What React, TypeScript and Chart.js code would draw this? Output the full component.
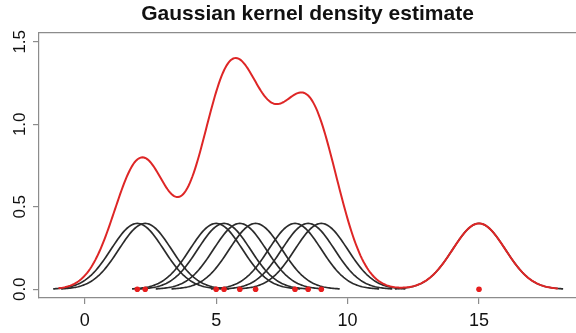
import React, { useEffect, useRef } from "react";
import { Chart, registerables } from "chart.js";

Chart.register(...registerables);

const samplePoints: number[] = [2.0, 2.3, 5.0, 5.3, 5.9, 6.5, 8.0, 8.5, 9.0, 15.0];
// Gaussian kernel bandwidth (each kernel peaks at ~0.4)
const bandwidth = 1;
// Extent of each individual kernel curve and of the summed estimate
const kernelHalfWidth = 3.2;
const densityRange: [number, number] = [-1, 18];
const xTicks: number[] = [0, 5, 10, 15];
const yTickLabels: string[] = ["0.0", "0.5", "1.0", "1.5"];
const yTickValues: number[] = [0, 0.5, 1.0, 1.5];
const titleText = "Gaussian kernel density estimate";

const STEP = 0.05;

function gauss(x: number, mu: number, h: number) {
  const z = (x - mu) / h;
  return Math.exp(-0.5 * z * z) / (h * Math.sqrt(2 * Math.PI));
}

function grid(a: number, b: number) {
  const out: number[] = [];
  const n = Math.round((b - a) / STEP);
  for (let i = 0; i <= n; i++) out.push(a + (i * (b - a)) / n);
  return out;
}

const FONT = "'Liberation Sans', Arial, Helvetica, sans-serif";

export default function App() {
  const ref = useRef<HTMLCanvasElement | null>(null);

  useEffect(() => {
    if (!ref.current) return;

    const kernelSets = samplePoints.map((mu) => ({
      type: "line" as const,
      data: grid(mu - kernelHalfWidth, mu + kernelHalfWidth).map((x) => ({ x, y: gauss(x, mu, bandwidth) })),
      borderColor: "#2b2b2b",
      borderWidth: 1.7,
      pointRadius: 0,
      pointHoverRadius: 0,
      tension: 0,
      order: 3,
    }));

    const densitySet = {
      type: "line" as const,
      data: grid(densityRange[0], densityRange[1]).map((x) => ({
        x,
        y: samplePoints.reduce((s, mu) => s + gauss(x, mu, bandwidth), 0),
      })),
      borderColor: "rgb(222,38,38)",
      borderWidth: 2,
      pointRadius: 0,
      pointHoverRadius: 0,
      tension: 0,
      order: 2,
    };

    const pointSet = {
      type: "scatter" as const,
      data: samplePoints.map((x) => ({ x, y: 0 })),
      backgroundColor: "rgb(230,30,30)",
      borderColor: "rgb(230,30,30)",
      borderWidth: 0,
      pointRadius: 2.8,
      pointHoverRadius: 2.8,
      order: 1,
    };

    const framePlugin = {
      id: "frame",
      afterDraw(chart: any) {
        const ctx = chart.ctx;
        const { left, right, top } = chart.chartArea;
        ctx.save();
        ctx.strokeStyle = "#8c8c8c";
        ctx.lineWidth = 1.2;
        ctx.beginPath();
        ctx.moveTo(left, top + 0.5);
        ctx.lineTo(right, top + 0.5);
        ctx.stroke();
        // rotated y tick labels
        const ys = chart.scales.y;
        ctx.fillStyle = "#111";
        ctx.font = `17px ${FONT}`;
        ctx.textAlign = "center";
        ctx.textBaseline = "alphabetic";
        yTickValues.forEach((v, i) => {
          const py = ys.getPixelForValue(v);
          ctx.save();
          ctx.translate(24.5, py);
          ctx.rotate(-Math.PI / 2);
          ctx.fillText(yTickLabels[i], 0, 0);
          ctx.restore();
        });
        ctx.restore();
      },
    };

    const chart = new Chart(ref.current, {
      type: "line",
      data: { datasets: [...kernelSets, densitySet, pointSet] as any },
      options: {
        animation: false,
        responsive: false,
        parsing: false as any,
        layout: { autoPadding: false, padding: { left: 0, right: 0, top: 0, bottom: 0 } },
        plugins: {
          legend: { display: false },
          tooltip: { enabled: false },
          title: {
            display: true,
            text: titleText,
            fullSize: false,
            color: "#111",
            font: { family: FONT, size: 21, weight: "bold" },
            padding: { top: 2, bottom: 5 },
          },
        },
        scales: {
          x: {
            type: "linear",
            min: -1.74,
            max: 18.69,
            afterFit: (s: any) => {
              s.height = 35;
              s.paddingLeft = 0;
              s.paddingRight = 0;
            },
            afterBuildTicks: (s: any) => {
              s.ticks = xTicks.map((v) => ({ value: v }));
            },
            ticks: {
              color: "#111",
              font: { family: FONT, size: 18 },
              padding: 6,
              maxRotation: 0,
              autoSkip: false,
            },
            grid: { drawOnChartArea: false, drawTicks: true, tickLength: 6, color: "#8c8c8c", lineWidth: 1.2 },
            border: { display: true, color: "#8c8c8c", width: 1.2 },
          },
          y: {
            type: "linear",
            min: -0.053,
            max: 1.558,
            afterFit: (s: any) => {
              s.width = 39;
              s.paddingTop = 0;
              s.paddingBottom = 0;
            },
            afterBuildTicks: (s: any) => {
              s.ticks = yTickValues.map((v) => ({ value: v }));
            },
            ticks: { display: false },
            grid: { drawOnChartArea: false, drawTicks: true, tickLength: 6, color: "#8c8c8c", lineWidth: 1.2 },
            border: { display: true, color: "#8c8c8c", width: 1.2 },
          },
        },
      },
      plugins: [framePlugin],
    });

    return () => chart.destroy();
  }, []);

  return (
    <div style={{ position: "fixed", left: 0, top: 0, width: 576, height: 333, background: "#fff" }}>
      <canvas ref={ref} width={576} height={333} style={{ display: "block" }} />
    </div>
  );
}
